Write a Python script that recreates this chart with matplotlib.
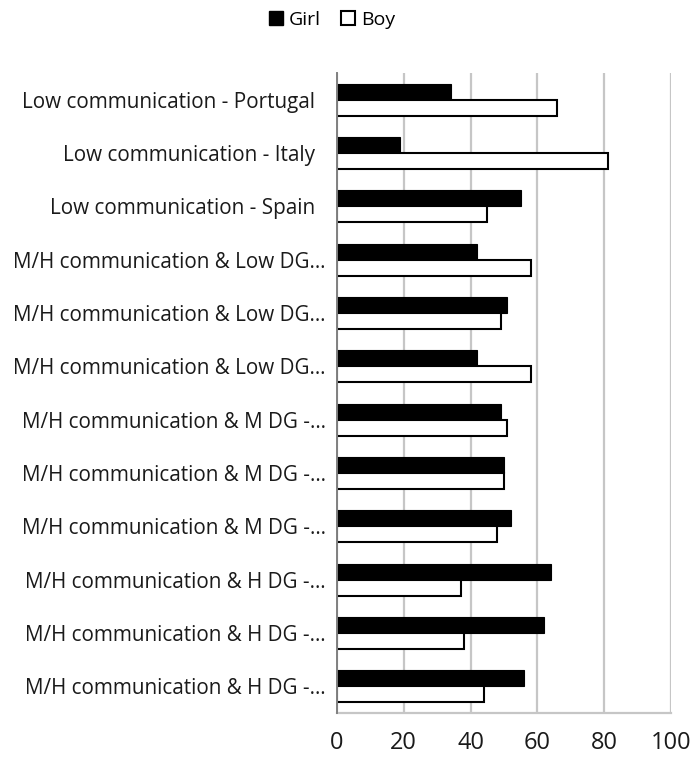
import numpy as np
import matplotlib
matplotlib.use('Agg')
from matplotlib import pyplot as plt
from matplotlib.patches import Patch

plt.rcParams['font.family'] = ['Open Sans', 'DejaVu Sans']

categories = [
    'Low communication - Portugal  ',
    'Low communication - Italy  ',
    'Low communication - Spain  ',
    'M/H communication & Low DG…',
    'M/H communication & Low DG…',
    'M/H communication & Low DG…',
    'M/H communication & M DG -…',
    'M/H communication & M DG -…',
    'M/H communication & M DG -…',
    'M/H communication & H DG -…',
    'M/H communication & H DG -…',
    'M/H communication & H DG -…',
]
girl = [34, 19, 55, 42, 51, 42, 49, 50, 52, 64, 62, 56]
boy = [66, 81, 45, 58, 49, 58, 51, 50, 48, 37, 38, 44]
xticks = [0, 20, 40, 60, 80, 100]

fig = plt.figure(figsize=(6.93, 7.58), dpi=100)
ax = fig.add_axes([337 / 693, 1 - 713 / 758, (671 - 337) / 693, (713 - 73) / 758])

y = np.arange(len(categories))
h = 0.3
ax.barh(y - h / 2, girl, height=h, color='black', edgecolor='black', linewidth=0.8, zorder=3)
ax.barh(y + h / 2, boy, height=h, color='white', edgecolor='black', linewidth=1.5, zorder=3)

ax.set_xlim(0, 100)
ax.set_ylim(len(categories) - 0.5, -0.5)
ax.set_xticks(xticks)
ax.set_xticklabels([str(t) for t in xticks], fontsize=17)
ax.set_yticks(y)
ax.set_yticklabels(categories, fontsize=14.9)
ax.tick_params(axis='both', length=0, colors='#1a1a1a')
ax.tick_params(axis='x', pad=13)
ax.tick_params(axis='y', pad=8)
ax.grid(axis='x', color='#c6c6c6', linewidth=1.6, zorder=0)
for s in ['top', 'right']:
    ax.spines[s].set_visible(False)
ax.spines['left'].set_color('#808080')
ax.spines['left'].set_linewidth(1.4)
ax.spines['bottom'].set_color('#c6c6c6')
ax.spines['bottom'].set_linewidth(1.6)
ax.spines['left'].set_zorder(4)

handles = [Patch(facecolor='black', edgecolor='black', label='Girl'),
           Patch(facecolor='white', edgecolor='black', linewidth=1.5, label='Boy')]
fig.legend(handles=handles, loc='center', bbox_to_anchor=(332 / 693, 1 - 20 / 758), ncol=2,
           frameon=False, fontsize=14, handlelength=0.75, handleheight=0.75,
           handletextpad=0.3, columnspacing=1.0)

fig.savefig('out.png', dpi=100)
